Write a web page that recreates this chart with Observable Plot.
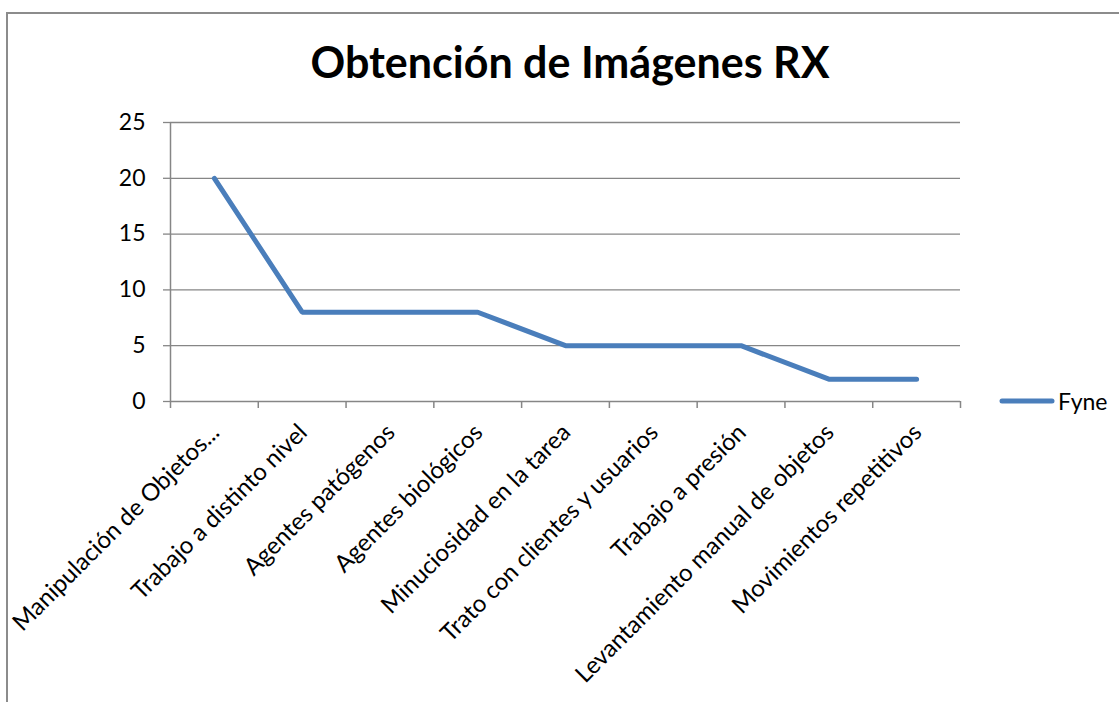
<!DOCTYPE html>
<html>
<head>
<meta charset="utf-8">
<script src="https://cdn.jsdelivr.net/npm/d3@7"></script>
<script src="https://cdn.jsdelivr.net/npm/@observablehq/plot@0.6"></script>
<style>
  body { margin: 0; background: #fff; }
  #wrap { position: relative; width: 1119px; height: 702px; overflow: hidden; font-family: Lato, sans-serif; }
  #frame { position: absolute; left: 6px; top: 12px; width: 1300px; height: 900px; border-left: 2px solid #8c8c8c; border-top: 2px solid #8c8c8c; }
  #title { position: absolute; left: 0; width: 1140px; top: 40px; text-align: center; font-weight: 700; font-size: 43px; line-height: 43px; color: #000; }
  #legend { position: absolute; left: 999px; top: 387px; display: flex; align-items: center; font-size: 23px; color: #000; }
  #chart { position: absolute; left: 0; top: 0; }
</style>
</head>
<body>
<div id="wrap">
  <div id="frame"></div>
  <div id="chart"></div>
  <div id="title"></div>
  <div id="legend"></div>
</div>
<script>
const chartTitle = "Obtención de Imágenes RX";
const seriesName = "Fyne";
const categories = [
  "Manipulación de Objetos...",
  "Trabajo a distinto nivel",
  "Agentes patógenos",
  "Agentes biológicos",
  "Minuciosidad en la tarea",
  "Trato con clientes y usuarios",
  "Trabajo a presión",
  "Levantamiento manual de objetos",
  "Movimientos repetitivos"
];
const values = [20, 8, 8, 8, 5, 5, 5, 2, 2];
const yTicks = [0, 5, 10, 15, 20, 25];

const lineColor = "#4A7EBB";
const gridColor = "#868686";

const data = categories.map((c, i) => ({cat: c, pos: i + 0.5, value: values[i]}));
const boundaries = d3.range(categories.length + 1);

const plot = Plot.plot({
  width: 1119,
  height: 702,
  marginLeft: 170,
  marginRight: 159,
  marginTop: 122,
  marginBottom: 301,
  style: {fontFamily: "Lato, sans-serif", fontSize: "24px", color: "#000", background: "transparent"},
  x: {type: "linear", domain: [0, categories.length], axis: null},
  y: {domain: [0, 25], axis: null},
  marks: [
    Plot.gridY(yTicks, {stroke: gridColor, strokeOpacity: 1, strokeWidth: 1.3}),
    Plot.ruleX([0], {stroke: gridColor, strokeWidth: 1.5, y1: 0, y2: 25}),
    Plot.axisY(yTicks, {tickSize: 7, tickPadding: 18, stroke: gridColor, strokeWidth: 1.3, fill: "#000", fontSize: 23, label: null}),
    Plot.axisX(boundaries, {tickSize: 7, tickFormat: () => "", stroke: gridColor, strokeWidth: 1.5, label: null}),
    Plot.axisX(data.map(d => d.pos), {
      tickSize: 0, tickPadding: 14, tickRotate: -45, fontSize: 24, fill: "#000", label: null,
      dx: 1, dy: 13,
      tickFormat: p => categories[Math.floor(p)]
    }),
    Plot.line(data, {x: "pos", y: "value", stroke: lineColor, strokeWidth: 5, strokeLinecap: "round", strokeLinejoin: "miter"})
  ]
});
document.getElementById("chart").appendChild(plot);
document.getElementById("title").textContent = chartTitle;
document.getElementById("legend").innerHTML =
  `<svg width="56" height="10" style="margin-right:3px"><line x1="3" y1="5" x2="53" y2="5" stroke="${lineColor}" stroke-width="5" stroke-linecap="round"/></svg><span>${seriesName}</span>`;
</script>
</body>
</html>
